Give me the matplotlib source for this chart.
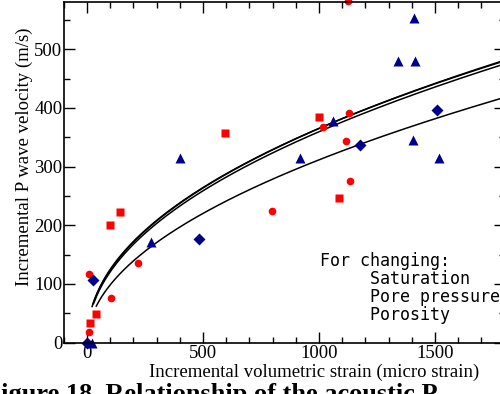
import numpy as np
import matplotlib.pyplot as plt
from matplotlib.ticker import MultipleLocator

plt.rcParams['font.family'] = ['Liberation Serif', 'DejaVu Serif']

# measured points (strain in micro strain, velocity in m/s)
circ_x = [1124, 1128, 1017, 1118, 1134, 796, 221, 9, 102, 10]
circ_y = [582, 391, 367, 343, 275, 225, 136, 117, 76, 18]

sq_x = [596, 1000, 1085, 99, 141, 37, 14]
sq_y = [358, 384, 246, 201, 222, 49, 34]

tri_x = [401, 1409, 1341, 1415, 1060, 917, 1407, 1516, 275, 22]
tri_y = [314, 553, 480, 480, 378, 315, 346, 315, 172, 0]

dia_x = [1509, 1178, 484, 26, 0]
dia_y = [396, 337, 177, 106, 0]

# power-law fits v = a * strain**b
fit_a = [14.6, 14.2, 13.6, 9.85]
fit_b = [0.466, 0.47, 0.474, 0.5]
fit_start = [22, 26, 30, 40]

fig = plt.figure(figsize=(5.0, 3.94), dpi=100)
ax = fig.add_axes([0.1276, 0.1302, 0.8816, 0.8642])

for a, b, x0 in zip(fit_a, fit_b, fit_start):
    xs = np.linspace(x0, 1800, 300)
    ax.plot(xs, a * xs**b, color='black', lw=1.1)

ax.plot(circ_x, circ_y, 'o', color='#ff0000', ms=5.5, mec='none', clip_on=False)
ax.plot(sq_x, sq_y, 's', color='#ff0000', ms=5.5, mec='none', clip_on=False)
ax.plot(tri_x, tri_y, '^', color='#00008b', ms=7, mec='none', clip_on=False)
ax.plot(dia_x, dia_y, 'D', color='#00008b', ms=6.5, mec='none', clip_on=False)

ax.set_xlim(-100, 1800)
ax.set_ylim(0, 580)
ax.xaxis.set_major_locator(MultipleLocator(500))
ax.xaxis.set_minor_locator(MultipleLocator(100))
ax.yaxis.set_major_locator(MultipleLocator(100))
ax.yaxis.set_minor_locator(MultipleLocator(50))
ax.tick_params(which='both', direction='in', top=True, right=True,
               labelsize=13.5, width=1)
ax.tick_params(which='major', length=8)
ax.tick_params(which='minor', length=4)
ax.tick_params(axis='y', pad=1)
ax.tick_params(axis='x', pad=2)
for s in ax.spines.values():
    s.set_linewidth(1.2)

ax.set_xlabel('Incremental volumetric strain (micro strain)', fontsize=13.5)
ax.xaxis.set_label_coords(0.5676, -0.063)
ax.set_ylabel('Incremental P wave velocity (m/s)', fontsize=13.5)
ax.yaxis.set_label_coords(-0.07, 0.547)

ax.text(0.581, 0.1606, 'For changing:\n     Saturation\n     Pore pressure\n     Porosity',
        transform=ax.transAxes, family='DejaVu Sans Mono', fontsize=12,
        va='center', ha='left', linespacing=1.0, clip_on=False)

fig.text(-0.03, (394 - 383) / 394, 'Figure 18. Relationship of the acoustic P',
         fontsize=19, fontweight='bold', va='top', ha='left')

fig.savefig('out.png', dpi=100)
